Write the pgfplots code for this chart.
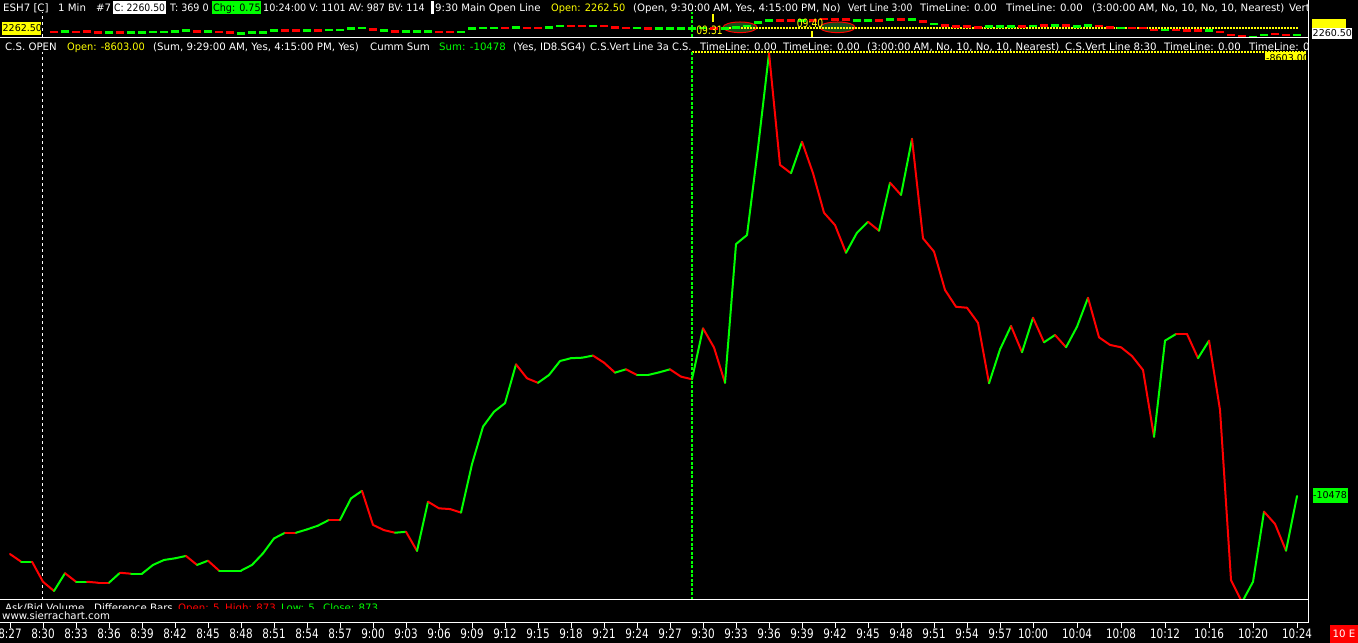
\documentclass[border=0pt]{standalone}
\usepackage{fontspec}
\setmainfont{DejaVu Sans}
\newfontfamily\tickfont[FakeStretch=0.8]{DejaVu Sans}
\usepackage{pgfplots}
\usepackage{pgfplotstable}
\pgfplotsset{compat=1.18}
\definecolor{cgreen}{RGB}{0,255,0}
\definecolor{cred}{RGB}{255,0,0}
\definecolor{cyellow}{RGB}{255,255,0}
\definecolor{darkg}{RGB}{25,75,25}
\newcommand{\hf}{\fontsize{10.2bp}{12bp}\selectfont}
\newcommand{\lf}{\fontsize{9.5bp}{11bp}\selectfont}
\newcommand{\htxt}[4]{\node[anchor=base west,inner sep=0pt,text=#3,font=\hf] at (#1,#2) {#4};}
\newcommand{\htxs}[5]{\node[anchor=base west,inner sep=0pt,text=#3,font=\hf,xscale=#4] at (#1,#2) {#5};}

\pgfplotstableread{
t v c
-3 -10723 0
-2 -10755 1
-1 -10755 0
0 -10840 0
1 -10879 1
2 -10804 0
3 -10840 1
4 -10840 0
5 -10844 0
6 -10844 1
7 -10802 0
8 -10806 1
9 -10806 1
10 -10769 1
11 -10748 1
12 -10741 1
13 -10731 0
14 -10769 1
15 -10751 0
16 -10793 1
17 -10793 1
18 -10793 1
19 -10769 1
20 -10720 1
21 -10657 1
22 -10633 0
23 -10633 1
24 -10619 1
25 -10603 1
26 -10579 0
27 -10579 1
28 -10488 1
29 -10456 0
30 -10600 0
31 -10622 0
32 -10633 1
33 -10629 0
34 -10710 1
35 -10502 0
36 -10530 0
37 -10533 0
38 -10548 1
39 -10343 1
40 -10185 1
41 -10122 1
42 -10086 1
43 -9922 0
44 -9981 0
45 -10000 1
46 -9967 1
47 -9908 1
48 -9896 1
49 -9894 1
50 -9885 0
51 -9915 0
52 -9957 1
53 -9943 0
54 -9967 1
55 -9967 1
56 -9956 1
57 -9943 0
58 -9974 0
59 -9985 1
60 -9770 0
61 -9851 0
62 -10000 1
63 -9414 1
64 -9376 1
65 -9008 1
66 -8608 0
67 -9080 0
68 -9115 1
69 -8982 0
70 -9115 0
71 -9282 0
72 -9334 0
73 -9451 1
74 -9366 1
75 -9320 0
76 -9358 1
77 -9155 0
78 -9207 1
79 -8970 0
80 -9390 0
81 -9446 0
82 -9608 0
83 -9679 0
84 -9683 0
85 -9747 0
86 -10002 1
87 -9859 1
88 -9760 0
89 -9871 1
90 -9725 0
91 -9829 1
92 -9798 0
93 -9850 1
94 -9763 1
95 -9641 0
96 -9808 0
97 -9840 0
98 -9850 0
99 -9887 0
100 -9946 0
101 -10228 1
102 -9822 1
103 -9794 0
104 -9794 0
105 -9896 1
106 -9822 0
107 -10115 0
108 -10833 0
109 -10926 1
110 -10840 1
111 -10544 0
112 -10596 0
113 -10709 1
114 -10478 1
}\cumsum

\pgfplotstableread{
t p c
1 2261.00 0
2 2261.25 1
3 2261.00 0
4 2261.25 0
5 2260.75 0
6 2260.75 1
7 2260.75 0
8 2260.75 1
9 2260.75 1
10 2261.00 1
11 2261.00 1
12 2261.25 1
13 2261.50 1
14 2261.25 0
15 2261.25 1
16 2261.00 0
17 2260.75 0
18 2260.50 1
19 2260.75 1
20 2260.75 1
21 2261.50 1
22 2261.50 0
23 2261.50 0
24 2261.50 1
25 2261.50 0
26 2261.75 1
27 2261.75 1
28 2262.25 1
29 2262.50 1
30 2262.00 0
31 2261.50 1
32 2261.25 0
33 2261.25 1
34 2261.25 1
35 2261.25 1
36 2261.00 0
37 2261.00 0
38 2261.00 1
39 2262.25 1
40 2262.50 1
41 2262.50 1
42 2262.50 0
43 2262.75 1
44 2262.50 0
45 2262.50 0
46 2262.75 1
47 2263.25 1
48 2263.25 0
49 2263.25 0
50 2263.25 1
51 2263.25 0
52 2262.75 0
53 2262.50 0
54 2262.50 1
55 2262.25 0
56 2262.25 1
57 2262.25 1
58 2262.25 1
59 2262.25 1
60 2262.50 1
61 2262.25 0
62 2262.25 1
63 2262.75 1
64 2263.25 1
65 2264.50 1
66 2265.25 1
67 2265.25 0
68 2265.25 0
69 2265.25 1
70 2265.25 0
71 2265.75 0
72 2265.50 0
73 2265.50 0
74 2265.25 1
75 2265.25 1
76 2265.25 0
77 2265.50 1
78 2265.50 0
79 2265.50 1
80 2264.75 0
81 2264.00 1
82 2263.50 0
83 2263.00 0
84 2263.00 0
85 2262.75 0
86 2263.00 1
87 2263.00 1
88 2263.00 1
89 2263.00 0
90 2263.25 1
91 2263.50 0
92 2263.50 1
93 2263.50 0
94 2263.00 1
95 2263.50 1
96 2263.25 0
97 2262.75 0
98 2262.50 1
99 2262.50 0
100 2262.50 0
101 2261.75 0
102 2261.75 1
103 2261.75 0
104 2261.50 0
105 2261.50 0
106 2261.50 1
107 2261.00 0
108 2260.00 0
109 2259.50 0
110 2259.25 1
111 2260.00 1
112 2260.25 0
113 2260.00 0
114 2260.00 1
}\candles

\begin{document}
\begin{tikzpicture}[x=1bp,y=1bp]
\useasboundingbox (0,0) rectangle (1358,643);
\clip (0,0) rectangle (1358,643);
\fill[black] (0,0) rectangle (1358,643);

% ---- price strip decorations (behind candles)
\filldraw[fill=darkg, draw=cred, line width=1bp] (740,615.7) ellipse [x radius=17bp, y radius=5.3bp];
\filldraw[fill=darkg, draw=cred, line width=1bp] (837.5,615.7) ellipse [x radius=17.5bp, y radius=5.3bp];
\draw[cyellow, line width=1.2bp, dash pattern=on 1.5bp off 1.5bp] (723,615) -- (1298,615);

% ---- price strip (candles)
\begin{axis}[at={(0bp,605bp)}, anchor=south west, scale only axis,
  width=1308bp, height=26bp, xmin=-3.91, xmax=115.0, ymin=2258.86, ymax=2268.32,
  hide axis, clip=false,
  colormap={updown}{rgb255=(255,0,0) rgb255=(0,255,0)}]
\addplot[scatter, only marks, scatter src=explicit, mark=-, mark size=4bp,
  point meta min=0, point meta max=1,
  scatter/use mapped color={draw=mapped color, fill=mapped color},
  mark options={line width=2.6bp}] table[x=t, y=p, meta=c] {\candles};
\end{axis}

% ---- main panel (cumulative sum)
\draw[white, line width=1.2bp, dash pattern=on 3bp off 3bp] (42.5,43) -- (42.5,591);
\draw[white, line width=1.2bp, dash pattern=on 3bp off 3bp] (42.5,606) -- (42.5,631);
\draw[cyellow, line width=1.2bp, dash pattern=on 1.5bp off 1.5bp] (692,591) -- (1306,591);

\begin{axis}[at={(0bp,43bp)}, anchor=south west, scale only axis,
  width=1308bp, height=562bp, xmin=-3.91, xmax=115.0, ymin=-10917, ymax=-8544,
  hide axis, clip=true,
  colormap={updown}{rgb255=(255,0,0) rgb255=(0,255,0)}]
\addplot[mesh, shader=flat corner, point meta=explicit, point meta min=0, point meta max=1,
  line width=2bp, line cap=round, line join=round] table[x=t, y=v, meta=c] {\cumsum};
\end{axis}
\draw[draw=cgreen, line width=2bp, dash pattern=on 3bp off 1.5bp] (691.5,43) -- (691.5,591);
\draw[draw=cgreen, line width=2bp, dash pattern=on 3bp off 1.5bp] (691.5,606) -- (691.5,631);

% ---- time axis
\begin{axis}[at={(0bp,20bp)}, anchor=south west, scale only axis,
  width=1308bp, height=10bp, xmin=-3.91, xmax=115.0, ymin=0, ymax=1,
  axis x line*=bottom, axis y line=none,
  x axis line style={white, line width=1bp, -},
  xtick={-3,0,3,6,9,12,15,18,21,24,27,30,33,36,39,42,45,48,51,54,57,60,63,66,69,72,75,78,81,84,87,90,94,98,102,106,110,114},
  xticklabels={8:27,8:30,8:33,8:36,8:39,8:42,8:45,8:48,8:51,8:54,8:57,9:00,9:03,9:06,9:09,9:12,9:15,9:18,9:21,9:24,9:27,9:30,9:33,9:36,9:39,9:42,9:45,9:48,9:51,9:54,9:57,10:00,10:04,10:08,10:12,10:16,10:20,10:24},
  tick align=outside, major tick length=5bp,
  xtick style={white, line width=1bp},
  xticklabel style={text=white, inner sep=0pt, yshift=-1bp, font=\tickfont\fontsize{13bp}{13bp}\selectfont}]
\addplot[draw=none] coordinates {(0,0)};
\end{axis}

% ---- frame lines
\draw[white, line width=1bp] (0,605.5) -- (1308,605.5);
\draw[white, line width=1bp] (0,43) -- (1308,43);
\draw[white, line width=1bp] (1308.5,20) -- (1308.5,643);

% ---- strip annotations
\draw[cyellow, line width=2bp] (713,621) -- (713,629);
\draw[cyellow, line width=2bp] (812,606) -- (812,612);
\node[anchor=center, inner sep=0pt, text=cyellow, font=\tickfont\fontsize{11.5bp}{11.5bp}\selectfont] at (709.5,613) {09:31};
\node[anchor=center, inner sep=0pt, text=cyellow, font=\tickfont\fontsize{11.5bp}{11.5bp}\selectfont] at (810,619.5) {09:40};
\fill[cyellow] (2,608.3) rectangle (41,621);
\node[anchor=base west, inner sep=0pt, text=black, font=\lf] at (2.5,611) {2262.50};

% ---- header lines (clipped at the right edge)
\begin{scope}
\clip (0,0) rectangle (1307,643);
\fill[white] (113,629) rectangle (166,642);
\fill[cgreen] (212,629) rectangle (261,642);
\fill[white] (431,629) rectangle (434,642);
\htxt{3}{631}{white}{ESH7 [C]}
\htxt{58}{631}{white}{1 Min}
\htxt{96}{631}{white}{\#7}
\htxs{114}{631}{black}{0.91}{C: 2260.50}
\htxs{170}{631}{white}{0.94}{T: 369 0}
\htxs{213}{631}{black}{0.94}{Chg: 0.75}
\htxs{263}{631}{white}{0.94}{10:24:00 V: 1101 AV: 987 BV: 114}
\htxt{435}{631}{white}{9:30 Main Open Line}
\htxs{551}{631}{cyellow}{0.96}{Open: 2262.50}
\htxt{633}{631}{white}{(Open, 9:30:00 AM, Yes, 4:15:00 PM, No)}
\htxs{848}{631}{white}{0.9}{Vert Line 3:00}
\htxt{920}{631}{white}{TimeLine: 0.00}
\htxt{1006}{631}{white}{TimeLine: 0.00}
\htxt{1092}{631}{white}{(3:00:00 AM, No, 10, No, 10, Nearest)}
\htxt{1289}{631}{white}{Vert}
% line 2
\begin{scope}
\clip (1265,583) rectangle (1306,591);
\fill[cyellow] (1265,583) rectangle (1306,591);
\node[anchor=base west, inner sep=0pt, text=black, font=\lf] at (1266,581.5) {-8603.00};
\end{scope}
\htxt{5}{592.5}{white}{C.S. OPEN}
\htxs{67}{592.5}{cyellow}{0.96}{Open: -8603.00}
\htxt{153}{592.5}{white}{(Sum, 9:29:00 AM, Yes, 4:15:00 PM, Yes)}
\htxt{370}{592.5}{white}{Cumm Sum}
\htxt{439}{592.5}{cgreen}{Sum: -10478}
\htxt{513}{592.5}{white}{(Yes, ID8.SG4)}
\htxs{590}{592.5}{white}{0.97}{C.S.Vert Line 3a C.S.}
\htxt{700}{592.5}{white}{TimeLine: 0.00}
\htxt{783}{592.5}{white}{TimeLine: 0.00}
\htxt{867}{592.5}{white}{(3:00:00 AM, No, 10, No, 10, Nearest)}
\htxt{1065}{592.5}{white}{C.S.Vert Line 8:30}
\htxt{1164}{592.5}{white}{TimeLine: 0.00}
\htxt{1249}{592.5}{white}{TimeLine: 0.0}
\end{scope}

% ---- bottom text line (partly hidden)
\begin{scope}
\clip (0,34) rectangle (1307,42);
\htxt{5}{31}{white}{Ask/Bid Volume}
\htxt{94}{31}{white}{Difference Bars}
\htxt{178}{31}{cred}{Open: 5}
\htxt{225}{31}{cred}{High: 873}
\htxt{281}{31}{cgreen}{Low: 5}
\htxt{323}{31}{cgreen}{Close: 873}
\end{scope}
\htxt{2}{23}{white}{www.sierrachart.com}

% ---- right-hand value labels
\fill[cyellow] (1312,615) rectangle (1346,624);
\fill[white] (1312,603.7) rectangle (1352,615.3);
\node[anchor=base west, inner sep=0pt, text=black, font=\lf] at (1312.5,606) {2260.50};
\fill[cgreen] (1312.7,140.3) rectangle (1348.3,155.3);
\node[anchor=base west, inner sep=0pt, text=black, font=\lf] at (1313,144.3) {-10478};
\fill[cred] (1330,0) rectangle (1358,18);
\node[anchor=center, inner sep=0pt, text=white, font=\hf] at (1344,9) {10 E};
\end{tikzpicture}
\end{document}
